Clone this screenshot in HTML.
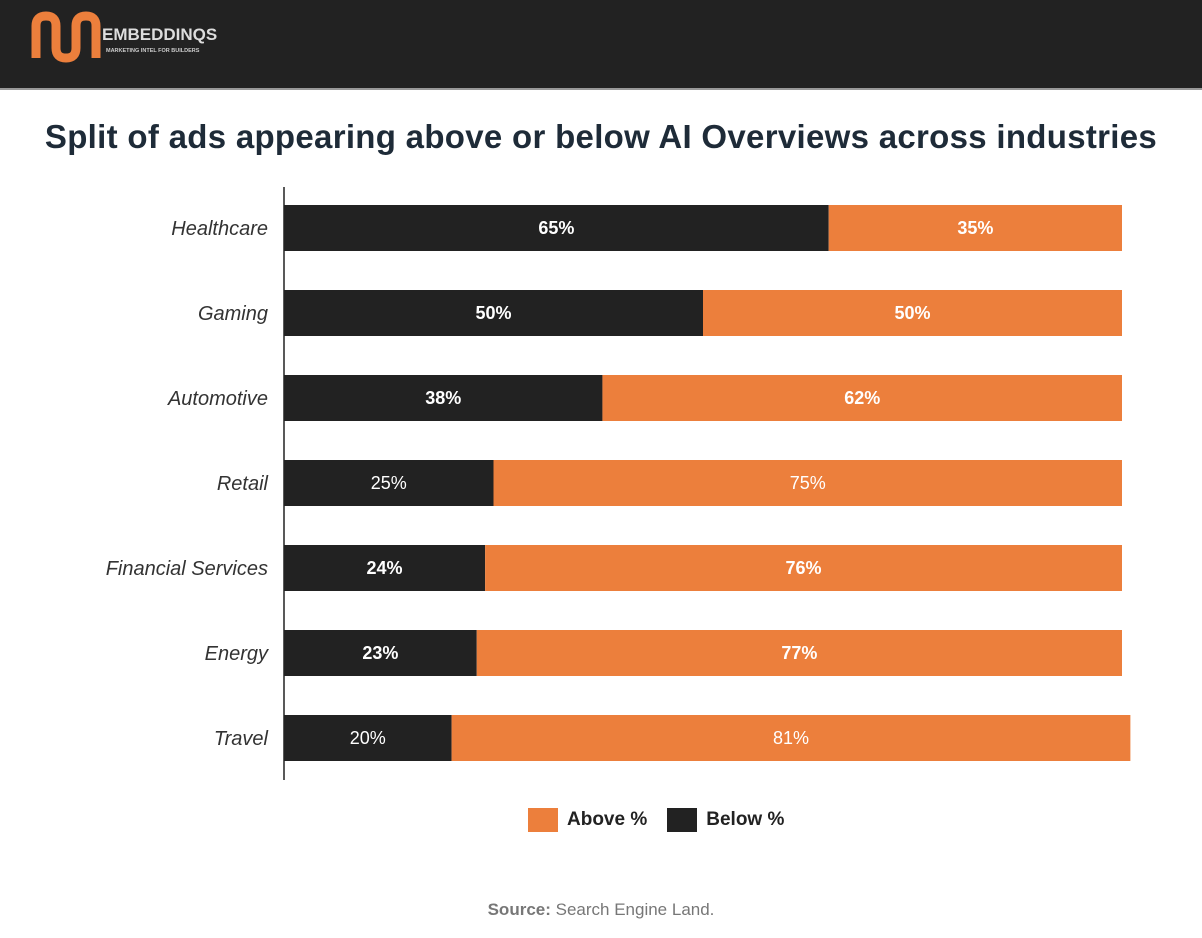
<!DOCTYPE html>
<html><head><meta charset="utf-8"><style>
body{margin:0;width:1202px;height:938px;background:#fff;font-family:"Liberation Sans",sans-serif;overflow:hidden;position:relative}
.hdr{position:absolute;left:0;top:0;width:1202px;height:88px;background:#222;border-bottom:2px solid #999}
</style></head><body>
<div class="hdr">
<svg width="300" height="88">
<path d="M36 58 V26 q0-10 10-10 q10 0 10 10 V48 q0 10 10 10 q10 0 10-10 V26 q0-10 10-10 q10 0 10 10 V58" fill="none" stroke="#ec7f3c" stroke-width="9"/>
<text x="102" y="40" fill="#ddd" font-size="17" font-weight="bold" font-family="Liberation Sans, sans-serif">EMBEDDINQS</text>
<text x="106" y="52" fill="#ccc" font-size="5.5" font-weight="bold" font-family="Liberation Sans, sans-serif">MARKETING INTEL FOR BUILDERS</text>
</svg></div>
<div style="position:absolute;left:0;width:1202px;top:118px;text-align:center;font-size:33px;font-weight:bold;color:#1e2b38;letter-spacing:0.3px">Split of ads appearing above or below AI Overviews across industries</div>
<svg id="chart" width="1202" height="938" style="position:absolute;left:0;top:0"></svg>
<div style="position:absolute;top:808px;left:528px;font-size:19px;font-weight:bold;color:#222;display:flex;align-items:center;height:24px">
<span style="width:30px;height:24px;background:#ec7f3c;display:inline-block;margin-right:9px"></span><span>Above %</span>
<span style="width:30px;height:24px;background:#222;display:inline-block;margin:0 9px 0 20px"></span><span>Below %</span></div>
<div style="position:absolute;top:900px;left:0;width:1202px;text-align:center;font-size:17px;color:#777"><b>Source:</b> Search Engine Land.</div>
<script>
const categories=["Healthcare","Gaming","Automotive","Retail","Financial Services","Energy","Travel"];
const below=[65,50,38,25,24,23,20];
const above=[35,50,62,75,76,77,81];
const boldLabels=[true,true,true,false,true,true,false];
const svg=document.getElementById('chart');
const NS='http://www.w3.org/2000/svg';
const x0=284,pxPer=8.38,top0=205,step=85,bh=46;
const X=v=>x0+v*pxPer;
const Y=i=>top0+i*step;
function mk(t,a){const e=document.createElementNS(NS,t);for(const k in a)e.setAttribute(k,a[k]);svg.appendChild(e);return e;}
categories.forEach((c,i)=>{
 const y=Y(i);
 const r1=mk('rect',{x:X(0),y:y,width:X(below[i])-X(0),height:bh,fill:'#222'});
 
 
 const r2=mk('rect',{x:X(below[i]),y:y,width:X(below[i]+above[i])-X(below[i]),height:bh,fill:'#ec7f3c'});
 
 
 const fw=boldLabels[i]?'bold':'normal';
 const t1=mk('text',{x:(X(0)+X(below[i]))/2,y:y+bh/2+6,'text-anchor':'middle',fill:'#fff','font-size':18,'font-weight':fw,'font-family':'Liberation Sans, sans-serif'});
 t1.textContent=below[i]+'%';
 
 
 const t2=mk('text',{x:(X(below[i])+X(below[i]+above[i]))/2,y:y+bh/2+6,'text-anchor':'middle',fill:'#fff','font-size':18,'font-weight':fw,'font-family':'Liberation Sans, sans-serif'});
 t2.textContent=above[i]+'%';
 
 
 const l=mk('text',{x:268,y:y+bh/2+7,'text-anchor':'end',fill:'#333','font-size':20,'font-style':'italic','font-family':'Liberation Sans, sans-serif'});
 l.textContent=c;
 
 
});
const ax=mk('line',{x1:x0,x2:x0,y1:187,y2:780,stroke:'#222','stroke-width':1.5});


</script>
</body></html>
